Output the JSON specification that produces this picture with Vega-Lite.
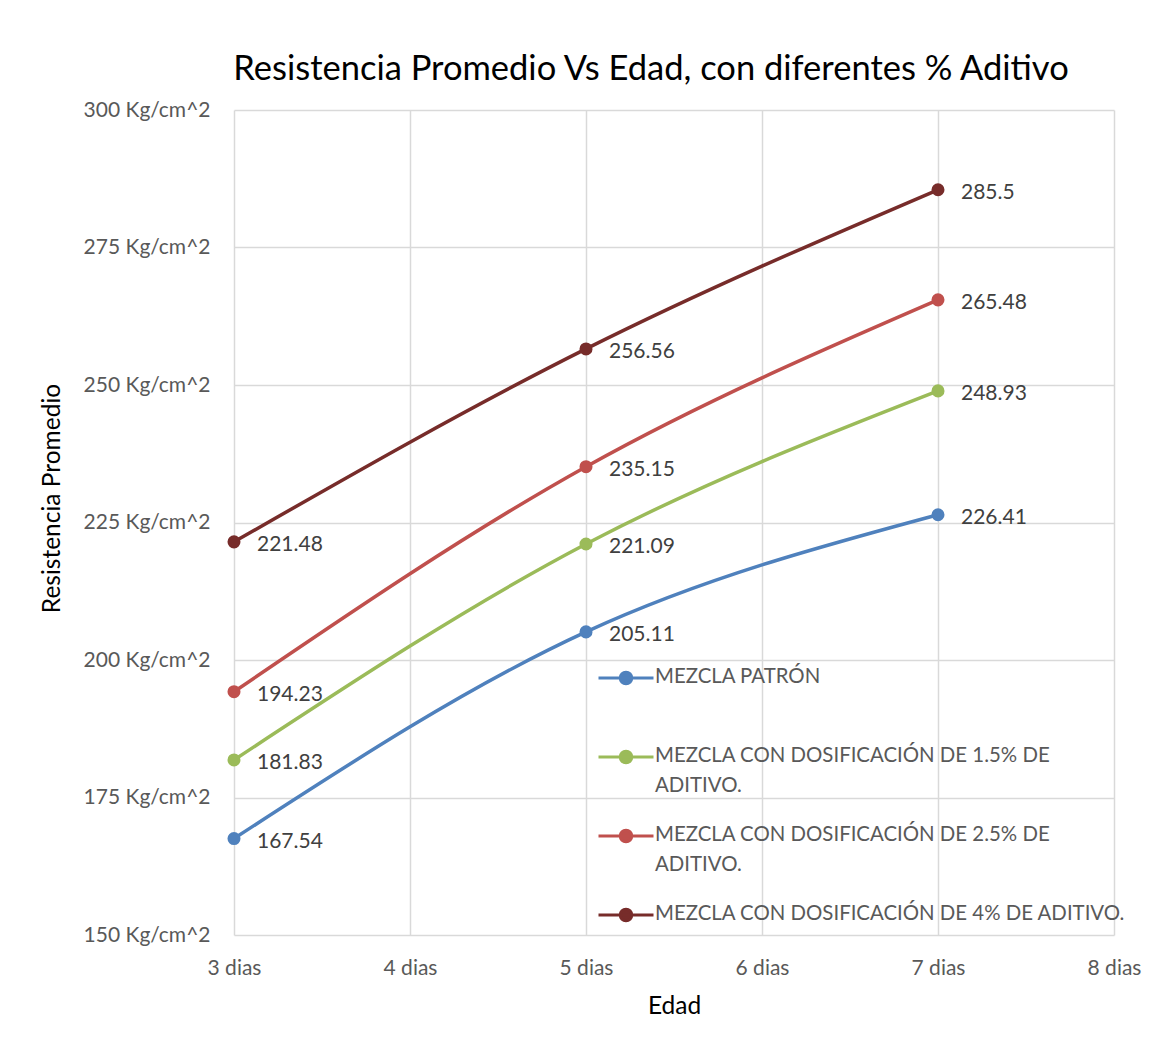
{
  "$schema": "https://vega.github.io/schema/vega-lite/v6.json",
  "width": 880,
  "height": 825,
  "autosize": "none",
  "padding": {"left": 234, "top": 110, "right": 50, "bottom": 112},
  "background": "white",
  "title": {
    "text": "Resistencia Promedio Vs Edad, con diferentes % Aditivo",
    "font": "Lato",
    "fontSize": 34.5,
    "fontWeight": "normal",
    "color": "#000000",
    "anchor": "middle",
    "dx": -23,
    "offset": 12
  },
  "config": {
    "view": {"stroke": null},
    "font": "Lato",
    "axis": {
      "grid": true,
      "gridColor": "#d9d9d9",
      "gridWidth": 1.5,
      "domain": false,
      "ticks": false,
      "labelFlush": false,
      "labelFont": "Lato",
      "labelFontSize": 21,
      "labelColor": "#595959",
      "titleFont": "Lato",
      "titleFontSize": 24.5,
      "titleFontWeight": "normal",
      "titleColor": "#000000"
    }
  },
  "data": {
    "values": [
      {"dia": 3, "valor": 167.54, "serie": "MEZCLA PATRÓN"},
      {"dia": 5, "valor": 205.11, "serie": "MEZCLA PATRÓN"},
      {"dia": 7, "valor": 226.41, "serie": "MEZCLA PATRÓN"},
      {"dia": 3, "valor": 181.83, "serie": "MEZCLA CON DOSIFICACIÓN DE 1.5% DE ADITIVO."},
      {"dia": 5, "valor": 221.09, "serie": "MEZCLA CON DOSIFICACIÓN DE 1.5% DE ADITIVO."},
      {"dia": 7, "valor": 248.93, "serie": "MEZCLA CON DOSIFICACIÓN DE 1.5% DE ADITIVO."},
      {"dia": 3, "valor": 194.23, "serie": "MEZCLA CON DOSIFICACIÓN DE 2.5% DE ADITIVO."},
      {"dia": 5, "valor": 235.15, "serie": "MEZCLA CON DOSIFICACIÓN DE 2.5% DE ADITIVO."},
      {"dia": 7, "valor": 265.48, "serie": "MEZCLA CON DOSIFICACIÓN DE 2.5% DE ADITIVO."},
      {"dia": 3, "valor": 221.48, "serie": "MEZCLA CON DOSIFICACIÓN DE 4% DE ADITIVO."},
      {"dia": 5, "valor": 256.56, "serie": "MEZCLA CON DOSIFICACIÓN DE 4% DE ADITIVO."},
      {"dia": 7, "valor": 285.5, "serie": "MEZCLA CON DOSIFICACIÓN DE 4% DE ADITIVO."}
    ]
  },
  "encoding": {
    "x": {
      "field": "dia",
      "type": "quantitative",
      "scale": {"domain": [3, 8], "nice": false, "zero": false},
      "axis": {
        "values": [3, 4, 5, 6, 7, 8],
        "labelExpr": "datum.value + ' dias'",
        "labelPadding": 22,
        "title": "Edad",
        "titleY": 71,
        "titleBaseline": "middle"
      }
    },
    "y": {
      "field": "valor",
      "type": "quantitative",
      "scale": {"domain": [150, 300], "nice": false, "zero": false},
      "axis": {
        "values": [150, 175, 200, 225, 250, 275, 300],
        "labelExpr": "datum.value + ' Kg/cm^2'",
        "labelPadding": 24,
        "title": "Resistencia Promedio",
        "titleX": -182,
        "titleY": 388,
        "titleAngle": -90,
        "titleAlign": "center",
        "titleBaseline": "middle"
      }
    },
    "color": {
      "field": "serie",
      "type": "nominal",
      "sort": null,
      "scale": {
        "domain": ["MEZCLA PATRÓN", "MEZCLA CON DOSIFICACIÓN DE 1.5% DE ADITIVO.", "MEZCLA CON DOSIFICACIÓN DE 2.5% DE ADITIVO.", "MEZCLA CON DOSIFICACIÓN DE 4% DE ADITIVO."],
        "range": ["#4F81BD", "#9BBB59", "#C0504D", "#772C2A"]
      },
      "legend": {
        "title": null,
        "orient": "none",
        "legendX": 363,
        "legendY": 539,
        "symbolType": "M-1,0L1,0M0.21,0A0.21,0.21 0 1,1 -0.21,0A0.21,0.21 0 1,1 0.21,0Z",
        "symbolSize": 3025,
        "symbolStrokeWidth": 3,
        "labelFont": "Lato",
        "labelFontSize": 20.4,
        "labelColor": "#595959",
        "labelLimit": 1000,
        "labelOffset": 0,
        "labelBaseline": "top",
        "rowPadding": 10,
        "labelExpr": "datum.label == 'MEZCLA CON DOSIFICACIÓN DE 1.5% DE ADITIVO.' ? ['MEZCLA CON DOSIFICACIÓN DE 1.5% DE', 'ADITIVO.'] : datum.label == 'MEZCLA CON DOSIFICACIÓN DE 2.5% DE ADITIVO.' ? ['MEZCLA CON DOSIFICACIÓN DE 2.5% DE', 'ADITIVO.'] : [datum.label, ' ']",
        "encode": {
          "symbols": {"update": {"fill": {"scale": "color", "field": "value"}, "fillOpacity": {"value": 1}}},
          "labels": {"update": {"dy": {"value": -11}, "lineHeight": {"value": 30}}}
        }
      }
    }
  },
  "layer": [
    {
      "mark": {"type": "line", "strokeWidth": 3.5, "interpolate": "monotone"}
    },
    {
      "mark": {"type": "point", "filled": true, "opacity": 1, "size": 170}
    },
    {
      "mark": {"type": "text", "align": "left", "baseline": "middle", "dx": 23, "dy": 3, "fontSize": 21, "font": "Lato", "color": "#404040"},
      "encoding": {
        "text": {"field": "valor", "type": "quantitative", "format": ".2~f"},
        "color": {"value": "#404040"}
      }
    }
  ]
}
